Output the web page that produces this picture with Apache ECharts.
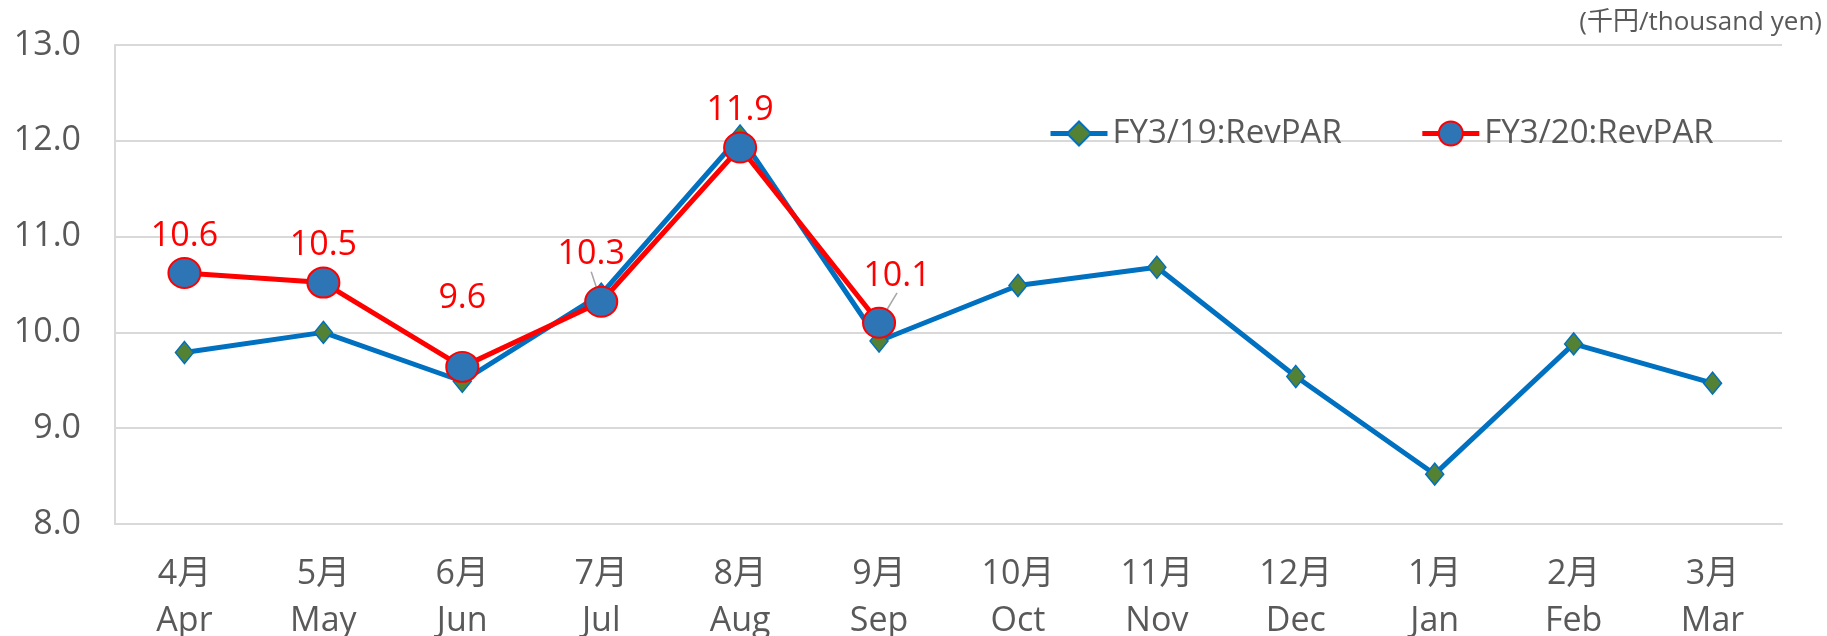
<!DOCTYPE html>
<html>
<head>
<meta charset="utf-8">
<script src="https://cdn.jsdelivr.net/npm/echarts@6/dist/echarts.min.js"></script>
<style>
  html, body { margin: 0; padding: 0; background: #fff; }
  #chart { width: 1827px; height: 636px; }
</style>
</head>
<body>
<div id="chart"></div>
<script>
const months = ['4月', '5月', '6月', '7月', '8月', '9月', '10月', '11月', '12月', '1月', '2月', '3月'];
const monthsEn = ['Apr', 'May', 'Jun', 'Jul', 'Aug', 'Sep', 'Oct', 'Nov', 'Dec', 'Jan', 'Feb', 'Mar'];
const fy19 = [9.79, 10.0, 9.49, 10.4, 12.05, 9.91, 10.49, 10.68, 9.54, 8.52, 9.88, 9.47];
const fy20 = [10.62, 10.52, 9.64, 10.32, 11.93, 10.1];
const seriesNames = ['FY3/19:RevPAR', 'FY3/20:RevPAR'];
const unitText = '(千円/thousand yen)';

// label nudges for the red series (dx, dy) and which ones get a leader line
const labelShift = [[0, 0], [0, 0], [0, -32], [-10, -10], [0, 0], [18, -10]];
const leaderIdx = [3, 5];

const FONT = "'Open Sans', 'Noto Sans CJK JP', sans-serif";
const GREY = '#595959';
const GRID = '#D9D9D9';

const chart = echarts.init(document.getElementById('chart'));

chart.setOption({
    animation: false,
    textStyle: { fontFamily: FONT },
    title: {
        text: unitText,
        right: 5,
        top: 10,
        padding: 0,
        textStyle: { fontSize: 26, fontWeight: 'normal', color: GREY, fontFamily: FONT },
    },
    legend: {
        left: 1048,
        top: 117,
        padding: 0,
        itemWidth: 57,
        itemHeight: 30,
        itemGap: 78,
        lineStyle: { width: 5 },
        textStyle: { fontSize: 33, color: GREY, fontFamily: FONT },
        data: seriesNames,
    },
    grid: { left: 115, right: 45, top: 45, bottom: 112, outerBoundsMode: 'none' },
    xAxis: {
        type: 'category',
        data: months,
        axisLine: { lineStyle: { color: GRID, width: 2 } },
        axisTick: { show: false },
        axisLabel: {
            margin: 27,
            fontSize: 34,
            lineHeight: 47,
            color: GREY,
            fontFamily: FONT,
            formatter: (v, i) => v + '\n' + monthsEn[i],
        },
    },
    yAxis: {
        type: 'value',
        min: 8,
        max: 13,
        interval: 1,
        axisLine: { show: true, lineStyle: { color: GRID, width: 2 } },
        axisTick: { show: false },
        splitLine: { lineStyle: { color: GRID, width: 2 } },
        axisLabel: {
            margin: 34,
            fontSize: 34,
            color: GREY,
            fontFamily: FONT,
            formatter: (v) => v.toFixed(1),
        },
    },
    series: [
        {
            name: seriesNames[0],
            type: 'line',
            data: fy19,
            symbol: 'diamond',
            symbolSize: [18, 22],
            lineStyle: { color: '#0070C0', width: 5 },
            itemStyle: { color: '#548235', borderColor: '#0070C0', borderWidth: 1.5 },
            z: 2,
        },
        {
            name: seriesNames[1],
            type: 'line',
            data: fy20.map((v, i) => ({
                value: v,
                labelLine: { show: leaderIdx.includes(i) },
            })),
            symbol: 'circle',
            symbolSize: [32, 30],
            lineStyle: { color: '#FF0000', width: 5 },
            itemStyle: { color: '#2E75B6', borderColor: '#FF0000', borderWidth: 2 },
            label: {
                show: true,
                position: 'top',
                distance: 4,
                fontSize: 34,
                color: '#FF0000',
                fontFamily: FONT,
                formatter: (p) => p.value.toFixed(1),
            },
            labelLine: { lineStyle: { color: '#A6A6A6', width: 1.5 } },
            labelLayout: (p) => ({ dx: labelShift[p.dataIndex][0], dy: labelShift[p.dataIndex][1] }),
            z: 3,
        },
    ],
});
</script>
</body>
</html>
